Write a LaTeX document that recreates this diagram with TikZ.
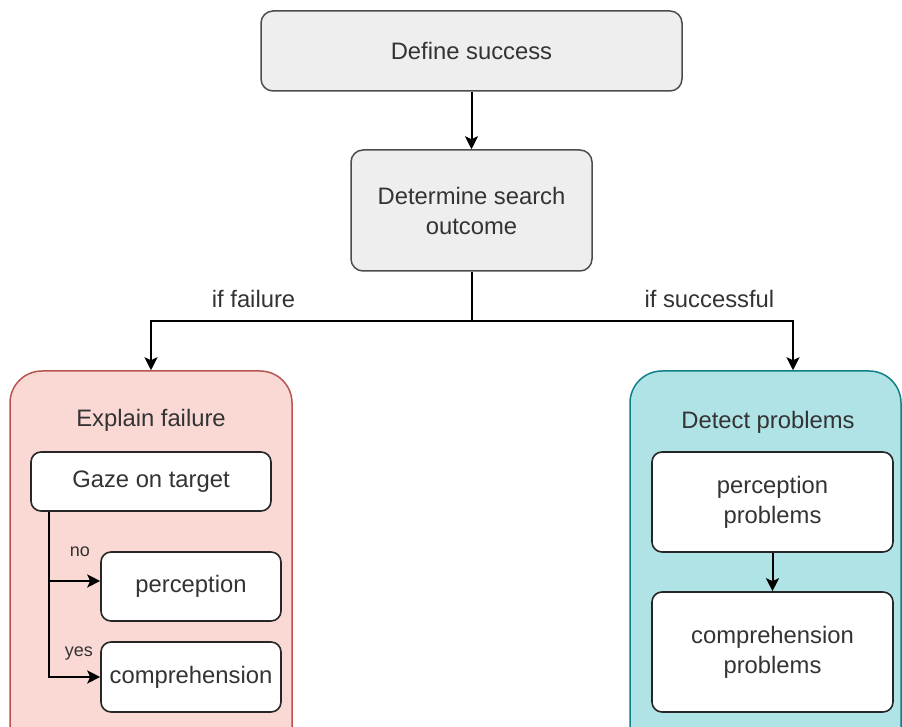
\documentclass[tikz,border=0pt]{standalone}
\usepackage{fontspec}
\setmainfont{Liberation Sans}
\usetikzlibrary{shapes,arrows.meta,positioning}

\definecolor{textgray}{HTML}{333333}
\definecolor{boxgray}{HTML}{EEEEEE}
\definecolor{failfill}{HTML}{FAD9D5}
\definecolor{faildraw}{HTML}{B85450}
\definecolor{okfill}{HTML}{B0E3E6}
\definecolor{okdraw}{HTML}{0E8088}

\begin{document}
\begin{tikzpicture}[
    x=0.5pt, y=-0.5pt,
    font=\fontsize{11.9}{15}\selectfont, text=textgray,
    mainbox/.style={rectangle, draw=black!70, fill=boxgray, line width=0.75pt, rounded corners=6pt, align=center, inner sep=0pt},
    subbox/.style={rectangle, draw=black!85, fill=white, line width=0.8pt, rounded corners=5pt, align=center, inner sep=0pt},
    group/.style={rectangle, line width=0.75pt, rounded corners=16pt, inner sep=0pt},
    arrow/.style={-{Stealth[length=6.5pt,width=6.5pt,inset=1.5pt]}, line width=1pt},
    line/.style={line width=1pt},
    small/.style={font=\fontsize{9}{11}\selectfont}
]
\clip (0,0) rectangle (902,727);

% Top of the flow
\node[mainbox, minimum width=210.5pt, minimum height=40pt] (define) at (471.5,51) {Define success};
\node[mainbox, minimum width=120.5pt, minimum height=60.5pt] (determine) at (471.5,210.5) {Determine search\\outcome};

% Groups
\node[group, draw=faildraw, fill=failfill, minimum width=141pt, minimum height=194.5pt] (fail) at (151,565.5) {};
\node[group, draw=okdraw, fill=okfill, minimum width=135.5pt, minimum height=194.5pt] (ok) at (765.5,565.5) {};
\node (failtitle) at (151,420) {Explain failure};
\node (oktitle) at (768,422) {Detect problems};

% Failure side
\node[subbox, minimum width=120pt, minimum height=29.5pt] (gaze) at (151,481.5) {Gaze on target};
\node[subbox, minimum width=90pt, minimum height=34.5pt] (perc) at (191,586.5) {perception};
\node[subbox, minimum width=90pt, minimum height=35pt] (comp) at (191,677) {comprehension};

% Success side
\node[subbox, minimum width=120.5pt, minimum height=50pt] (percprob) at (772.5,502) {perception\\problems};
\node[subbox, minimum width=120.5pt, minimum height=60pt] (compprob) at (772.5,652) {comprehension\\problems};

% Connections
\coordinate (split) at (471.5,321);
\coordinate (branch) at ([xshift=9.5pt]gaze.south west);
\draw[arrow] (define) -- (determine);
\draw[line] (determine) -- (split);
\draw[arrow] (split) -| node[pos=0.34, above=3pt] (failtext) {if failure} (fail.north);
\draw[arrow] (split) -| node[pos=0.37, above=3pt] (oktext) {if successful} ([xshift=13.75pt]ok.north);
\draw[arrow] (branch) |- node[pos=0.8, above=8.3pt, small] (notext) {no} ([yshift=2.75pt]perc.west);
\draw[arrow] (branch) |- node[pos=0.79, above=4.4pt, small] (yestext) {yes} (comp.west);
\draw[arrow] (percprob) -- (compprob);

\end{tikzpicture}
\end{document}
